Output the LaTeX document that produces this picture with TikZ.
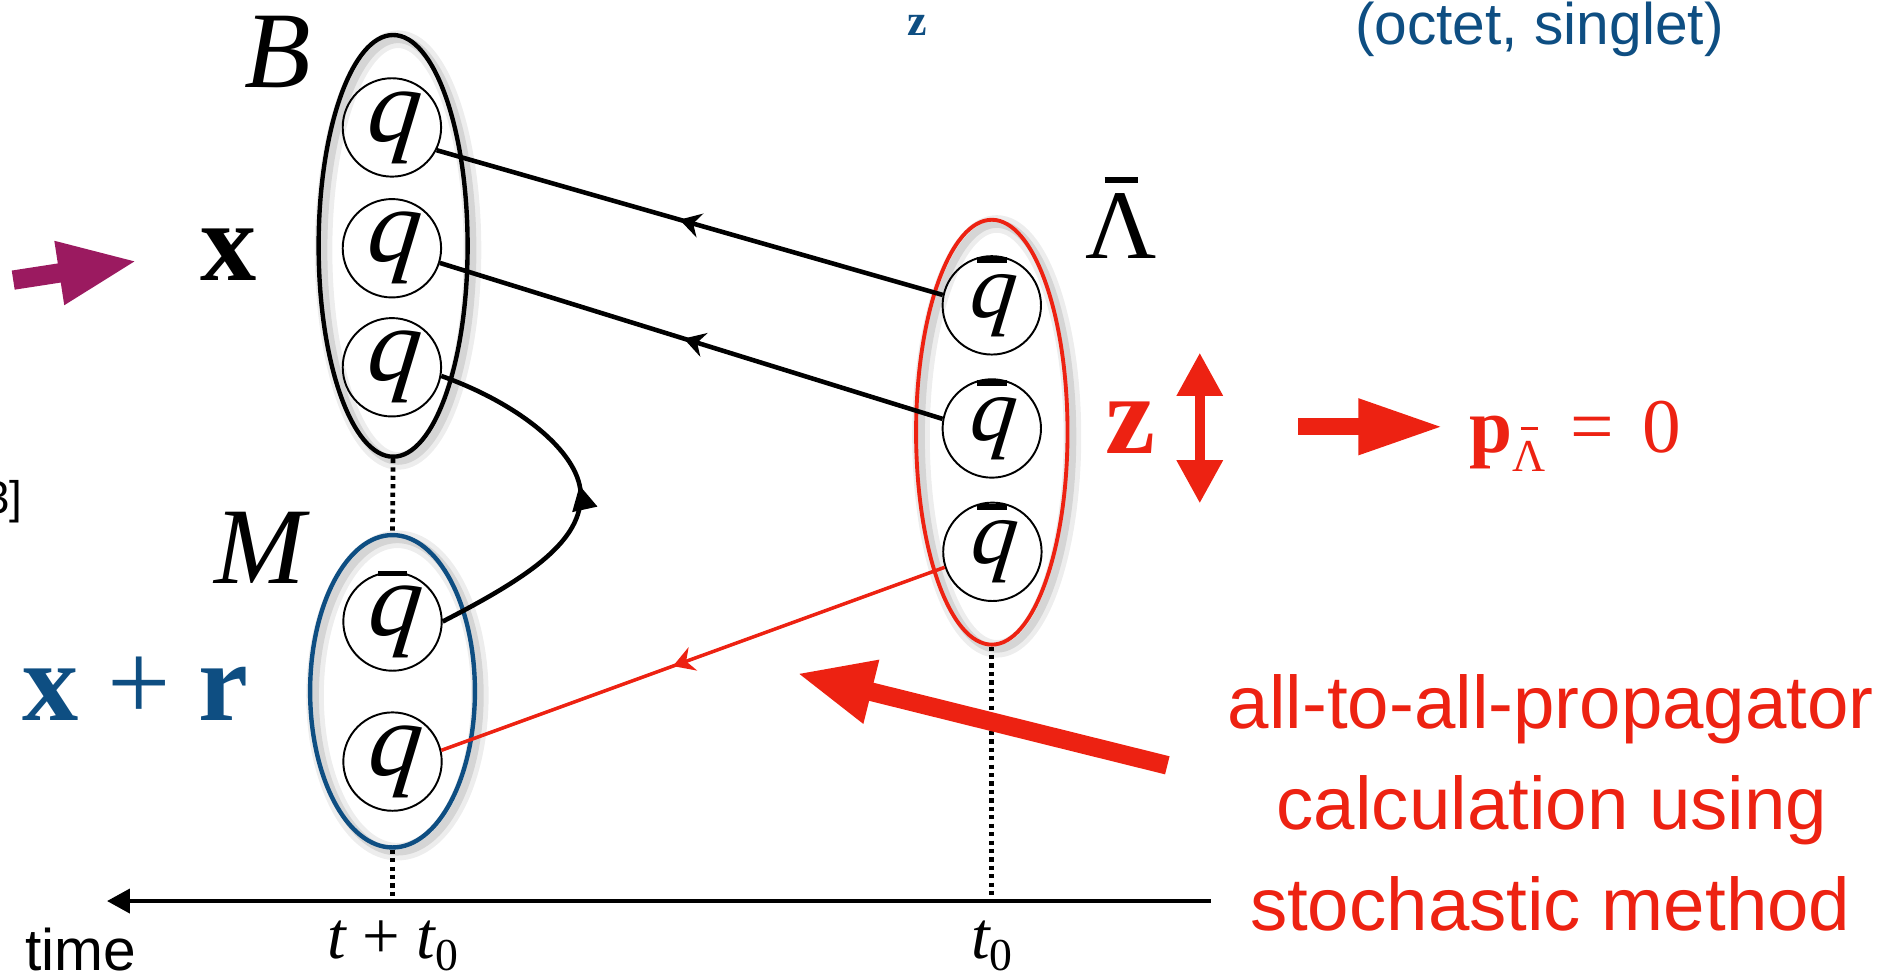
\documentclass[tikz,border=0pt]{standalone}
\usepackage{fontspec}
\setmainfont{Liberation Serif}
\newfontfamily\sansf{Liberation Sans}
\newfontfamily\qfont[ItalicFeatures={FakeSlant=0.12}]{Liberation Serif}
\usetikzlibrary{shapes.geometric,arrows.meta,decorations.markings}
\definecolor{hred}{RGB}{237,34,18}
\definecolor{hblue}{RGB}{14,78,130}
\definecolor{hpurple}{RGB}{155,26,96}
\newcommand\fsz[1]{\fontsize{#1}{#1}\selectfont}
% #1 bar width, #2 bar thickness, #3 gap above content, #4 content
\newcommand\mybar[4]{\setbox0=\hbox{#4}\rlap{\hbox to \wd0{\hss\smash{\raisebox{\dimexpr\ht0+#3\relax}{\rule{#1}{#2}}}\hss}}\box0}
\begin{document}
\begin{tikzpicture}[x=0.012022cm, y=-0.012022cm,
  every node/.style={inner sep=0pt},
  shadowed/.style={
    preaction={draw=black, draw opacity=0.07, line width=5pt, transform canvas={xshift=1.4pt,yshift=-1.2pt}},
    preaction={draw=black, draw opacity=0.10, line width=2.2pt, transform canvas={xshift=1.4pt,yshift=-1.2pt}}},
  hadron/.style={ellipse, shadowed, line width=1.25pt},
  quark/.style={circle, draw, line width=0.55pt, minimum size=28pt},
  qline/.style={line width=1.3pt},
  midarrow/.style={postaction={decorate, decoration={markings, mark=at position #1 with {\arrow{Stealth[length=6pt,width=7pt,inset=2pt]}}}}},
  midtri/.style={postaction={decorate, decoration={markings, mark=at position #1 with {\arrow{Triangle[length=7pt,width=7pt]}}}}},
  dotline/.style={line width=1.35pt, dash pattern=on 1.2pt off 1.2pt}
]
\useasboundingbox (0,0) rectangle (1568,812);

% hadron ellipses
\node[hadron, draw=black, minimum width=42.4pt, minimum height=120pt] (Bell) at (327,204.5) {};
\node[hadron, draw=hblue, minimum width=46.9pt, minimum height=88.9pt] (Mell) at (326.5,575) {};
\node[hadron, draw=hred, line width=1.1pt, minimum width=43.1pt, minimum height=120.9pt] (Lell) at (825,359.5) {};

% quarks
\node[quark, font=\fsz{30}\qfont\itshape] (bq1) at (326,106) {q};
\node[quark, font=\fsz{30}\qfont\itshape] (bq2) at (326,206.5) {q};
\node[quark, font=\fsz{30}\qfont\itshape] (bq3) at (326,305.5) {q};
\node[quark, font=\fsz{30}\qfont\itshape] (mq1) at (326.5,517) {\mybar{0.28em}{0.05em}{0.09em}{q}};
\node[quark, font=\fsz{30}\qfont\itshape] (mq2) at (326.5,633.5) {q};
\node[quark, font=\fsz{26}\qfont\itshape] (lq1) at (825,254) {\mybar{0.33em}{0.065em}{0.12em}{q}};
\node[quark, font=\fsz{26}\qfont\itshape] (lq2) at (825,356.4) {\mybar{0.33em}{0.065em}{0.12em}{q}};
\node[quark, font=\fsz{26}\qfont\itshape] (lq3) at (825.5,459) {\mybar{0.33em}{0.065em}{0.12em}{q}};

% time axis
\coordinate (axR) at (1007,749.5);
\coordinate (axL) at (89,749.5);
\draw[line width=1.15pt, -{Triangle[length=6.5pt,width=6.8pt]}] (axR) -- (axL);
\draw[dotline] (Bell.south) -- (Mell.north);
\draw[dotline] (Mell.south) -- (Mell.south |- axR);
\draw[dotline] (Lell.south) -- (Lell.south |- axR);

% propagators
\draw[qline, midarrow=0.52] (lq1.168) -- (bq1.-27);
\draw[qline, midarrow=0.515] (lq2.169) -- (bq2.-17);
\draw[qline, draw=hred, line width=1pt, midarrow=0.54] (lq3.198) -- (mq2.13);
\draw[qline, midtri=0.53] (mq1.east) .. controls (440,480) and (485,450) .. (483,410) .. controls (481,375) and (430,335) .. (bq3.-10);

% block arrows
\coordinate (pa1) at (11,233);
\coordinate (pa2) at (114.6,217);
\draw[hpurple, line width=5.5pt, -{Triangle[length=22.6pt,width=16.7pt]}] (pa1) -- (pa2);
\coordinate (ra1) at (1080,355);
\coordinate (ra2) at (1201,355);
\draw[hred, line width=4.8pt, -{Triangle[length=24.3pt,width=14.7pt]}] (ra1) -- (ra2);
\coordinate (za1) at (998,293.4);
\coordinate (za2) at (998,418.7);
\draw[hred, line width=2.8pt, {Triangle[length=12.3pt,width=12.5pt]}-{Triangle[length=12.3pt,width=12.5pt]}] (za1) -- (za2);
\coordinate (ba1) at (971,636.6);
\coordinate (ba2) at (662.7,560);
\draw[hred, line width=5.3pt, -{Triangle[length=21.9pt,width=17.1pt]}] (ba1) -- (ba2);

% labels
\node[font=\fsz{31}\itshape] (lB) at (231,43) {B};
\node[font=\fsz{31}\itshape] (lM) at (216,456) {M};
\node[font=\fsz{32}\bfseries] (lx) at (190,212) {x};
\node[font=\fsz{32}, text=hblue, anchor=base] (lxr) at (113,599) {{\bfseries x} + {\bfseries r}};
\node[font=\fsz{28}, anchor=base] (lL) at (932.7,215) {\mybar{0.34em}{0.06em}{0.11em}{Λ}};
\node[font=\fsz{32}\bfseries, text=hred, anchor=base] (lz) at (940,377) {z};
\node[font=\fsz{22}, text=hred, anchor=base west] (lp) at (1222,376.5) {{\bfseries p}\lower5.4pt\hbox{\fsz{13}\mybar{0.37em}{0.07em}{0.24em}{Λ}}\hspace{7pt}=\hspace{8pt}0};
\node[font=\sansf\fsz{16.7}, anchor=base] (ltime) at (67,807) {time};
\node[font=\fsz{19}, anchor=base] (lt1) at (326.5,797) {{\itshape t} + {\itshape t}\lower3.5pt\hbox{\fsz{13}0}};
\node[font=\fsz{19}, anchor=base] (lt0) at (825,797) {{\itshape t}\lower3.5pt\hbox{\fsz{13}0}};
\node[font=\fsz{12.5}\bfseries, text=hblue] (ztop) at (763,21) {z};
\node[font=\sansf\fsz{16.7}, text=hblue, anchor=base] (oct) at (1280.5,37.4) {(octet, singlet)};
\node[font=\sansf\fsz{21.2}, text=hred, anchor=base] (txt1) at (1290,605.6) {all-to-all-propagator};
\node[font=\sansf\fsz{21.2}, text=hred, anchor=base] (txt2) at (1291,690.4) {calculation using};
\node[font=\sansf\fsz{21.2}, text=hred, anchor=base] (txt3) at (1289.5,773.6) {stochastic method};
\node[font=\sansf\fsz{13}, anchor=base east] (cite) at (19,427) {3]};
\end{tikzpicture}
\end{document}
